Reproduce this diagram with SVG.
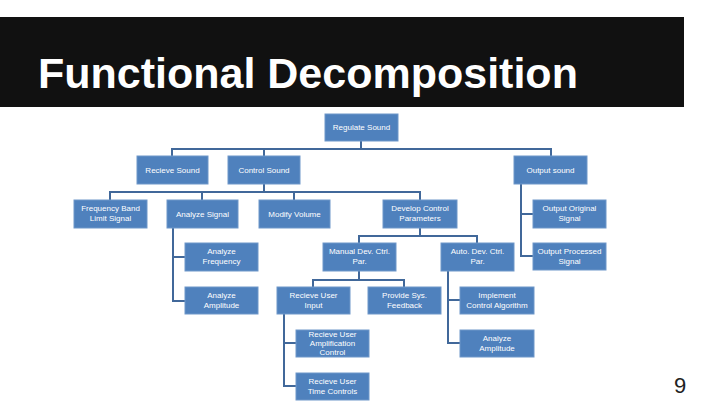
<svg xmlns="http://www.w3.org/2000/svg" width="720" height="405" viewBox="0 0 720 405">
<style>
.b{fill:#4f81bd;stroke:#6f97c9;stroke-width:1}
.t{fill:#fff;font-family:"Liberation Sans",Arial,sans-serif;font-size:8px;text-anchor:middle}
#conn path{fill:none;stroke:#41689a;stroke-width:2}
</style>
<rect width="720" height="405" fill="#fff"/>
<rect x="0" y="17" width="684" height="90" fill="#111"/>
<text x="38" y="88" fill="#fff" font-family="Liberation Sans,Arial,sans-serif" font-weight="bold" font-size="43">Functional Decomposition</text>
<g id="conn">
<path d="M361 141V149M172 156V149H551V156M264 149V156"/>
<path d="M264 184V192M110 200V192H420V200M202 192V200M294 192V200"/>
<path d="M521 184V256H533M521 214H533"/>
<path d="M173 228V301H185M173 257H185"/>
<path d="M420 228V236M359 243V236H477V243"/>
<path d="M359 271V280M313 287V280H404V287"/>
<path d="M448 271V343H460M448 300H460"/>
<path d="M284 314V386H296M284 343H296"/>
</g>
<g id="n1"><rect class="b" x="325" y="114" width="73" height="27"/><text class="t" x="361.5" y="130">Regulate Sound</text></g>
<g id="n2"><rect class="b" x="137" y="156" width="71" height="28"/><text class="t" x="172.5" y="173">Recieve Sound</text></g>
<g id="n3"><rect class="b" x="228" y="156" width="72" height="28"/><text class="t" x="264" y="173">Control Sound</text></g>
<g id="n4"><rect class="b" x="514" y="156" width="73" height="28"/><text class="t" x="550.5" y="173">Output sound</text></g>
<g id="n5"><rect class="b" x="74" y="200" width="73" height="28"/><text class="t" x="110.5" y="211">Frequency Band</text><text class="t" x="110.5" y="221">Limit Signal</text></g>
<g id="n6"><rect class="b" x="167" y="200" width="71" height="28"/><text class="t" x="202.5" y="217">Analyze Signal</text></g>
<g id="n7"><rect class="b" x="259" y="200" width="71" height="28"/><text class="t" x="294.5" y="217">Modify Volume</text></g>
<g id="n8"><rect class="b" x="383" y="200" width="74" height="28"/><text class="t" x="420" y="211">Develop Control</text><text class="t" x="420" y="221">Parameters</text></g>
<g id="n9"><rect class="b" x="533" y="200" width="73" height="28"/><text class="t" x="569.5" y="211">Output Original</text><text class="t" x="569.5" y="221">Signal</text></g>
<g id="n10"><rect class="b" x="533" y="243" width="73" height="27"/><text class="t" x="569.5" y="254">Output Processed</text><text class="t" x="569.5" y="264">Signal</text></g>
<g id="n11"><rect class="b" x="185" y="243" width="73" height="28"/><text class="t" x="221.5" y="254">Analyze</text><text class="t" x="221.5" y="264">Frequency</text></g>
<g id="n12"><rect class="b" x="185" y="287" width="73" height="27"/><text class="t" x="221.5" y="298">Analyze</text><text class="t" x="221.5" y="308">Amplitude</text></g>
<g id="n13"><rect class="b" x="323" y="243" width="73" height="28"/><text class="t" x="359.5" y="254">Manual Dev. Ctrl.</text><text class="t" x="359.5" y="264">Par.</text></g>
<g id="n14"><rect class="b" x="441" y="243" width="73" height="28"/><text class="t" x="477.5" y="254">Auto. Dev. Ctrl.</text><text class="t" x="477.5" y="264">Par.</text></g>
<g id="n15"><rect class="b" x="277" y="287" width="73" height="27"/><text class="t" x="313.5" y="298">Recieve User</text><text class="t" x="313.5" y="308">Input</text></g>
<g id="n16"><rect class="b" x="368" y="287" width="73" height="27"/><text class="t" x="404.5" y="298">Provide Sys.</text><text class="t" x="404.5" y="308">Feedback</text></g>
<g id="n17"><rect class="b" x="460" y="287" width="74" height="27"/><text class="t" x="497" y="298">Implement</text><text class="t" x="497" y="308">Control Algorithm</text></g>
<g id="n18"><rect class="b" x="460" y="330" width="74" height="27"/><text class="t" x="497" y="341">Analyze</text><text class="t" x="497" y="351">Amplitude</text></g>
<g id="n19"><rect class="b" x="296" y="330" width="73" height="27"/><text class="t" x="332.5" y="337">Recieve User</text><text class="t" x="332.5" y="346">Amplification</text><text class="t" x="332.5" y="355">Control</text></g>
<g id="n20"><rect class="b" x="296" y="373" width="73" height="27"/><text class="t" x="332.5" y="384">Recieve User</text><text class="t" x="332.5" y="394">Time Controls</text></g>
<text x="680" y="393" font-family="Liberation Sans,Arial,sans-serif" font-size="22" fill="#222" text-anchor="middle">9</text>
</svg>
